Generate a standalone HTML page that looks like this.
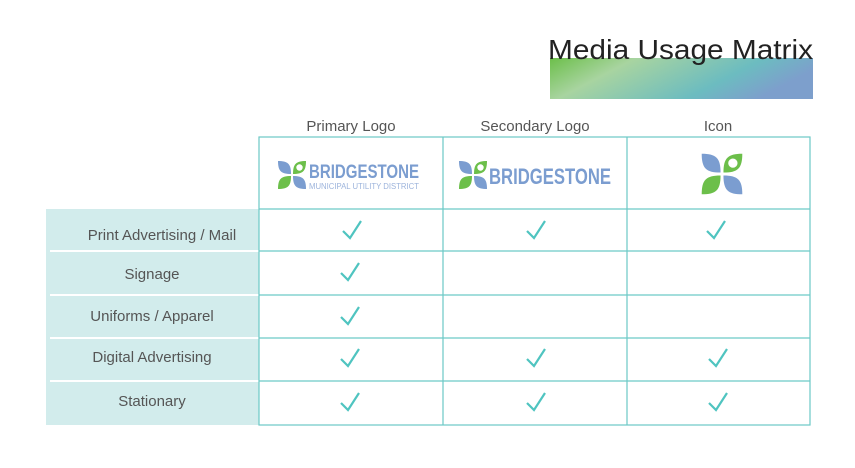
<!DOCTYPE html>
<html><head><style>body{margin:0;background:#fff}svg{display:block}</style></head><body>
<svg width="855" height="468" xmlns="http://www.w3.org/2000/svg" font-family="Liberation Sans, sans-serif">
<defs>
<linearGradient id="g" x1="0" y1="0" x2="1" y2="0.3">
<stop offset="0" stop-color="#6cbf4a"/><stop offset="0.3" stop-color="#a8d4a0"/><stop offset="0.75" stop-color="#6cbcc0"/><stop offset="1" stop-color="#7d9fcc"/></linearGradient>
<radialGradient id="w" cx="0.5" cy="1" r="0.5"><stop offset="0" stop-color="#fff"/><stop offset="1" stop-color="#fff" stop-opacity="0"/></radialGradient>
<g id="ck"><path d="M-9,1 L-2,8 L9,-9" fill="none" stroke="#4fc4c0" stroke-width="2.2"/></g>
<g id="lf">
<path d="M-1,-1 C-1,-11 -4,-14 -14,-14 C-14,-4 -11,-1 -1,-1Z" fill="#7b9dd0"/>
<path d="M1,-1 C1,-11 4,-14 14,-14 C14,-4 11,-1 1,-1Z" fill="#6cbf4a"/>
<circle cx="7.5" cy="-7.5" r="3.2" fill="#fff"/>
<path d="M-1,1 C-1,11 -4,14 -14,14 C-14,4 -11,1 -1,1Z" fill="#6cbf4a"/>
<path d="M1,1 C1,11 4,14 14,14 C14,4 11,1 1,1Z" fill="#7b9dd0"/>
</g>
</defs>
<rect x="550" y="58" width="263" height="41" fill="url(#g)"/>
<ellipse cx="578" cy="99" rx="45" ry="25" fill="url(#w)"/>
<text x="548" y="59" font-size="28" fill="#222" textLength="265" lengthAdjust="spacingAndGlyphs">Media Usage Matrix</text>
<g font-size="15" fill="#555" text-anchor="middle">
<text x="351" y="131">Primary Logo</text><text x="535" y="131">Secondary Logo</text><text x="718" y="131">Icon</text>
</g>
<rect x="46" y="209" width="213" height="216" fill="#d2ecec"/>
<g stroke="#fff" stroke-width="2"><line x1="50" y1="251" x2="259" y2="251"/><line x1="50" y1="295" x2="259" y2="295"/><line x1="50" y1="338" x2="259" y2="338"/><line x1="50" y1="381" x2="259" y2="381"/></g>
<g stroke="#6cc9c6" stroke-width="1.2" fill="none">
<rect x="259" y="137" width="551" height="288"/>
<line x1="443" y1="137" x2="443" y2="425"/><line x1="627" y1="137" x2="627" y2="425"/>
<line x1="259" y1="209" x2="810" y2="209"/><line x1="259" y1="251" x2="810" y2="251"/><line x1="259" y1="295" x2="810" y2="295"/><line x1="259" y1="338" x2="810" y2="338"/><line x1="259" y1="381" x2="810" y2="381"/>
</g>
<g font-size="15" fill="#555" text-anchor="middle">
<text x="162" y="240">Print Advertising / Mail</text><text x="152" y="279">Signage</text><text x="152" y="321">Uniforms / Apparel</text><text x="152" y="362">Digital Advertising</text><text x="152" y="406">Stationary</text>
</g>
<use href="#ck" x="352" y="230"/><use href="#ck" x="536" y="230"/><use href="#ck" x="716" y="230"/>
<use href="#ck" x="350" y="272"/><use href="#ck" x="350" y="316"/>
<use href="#ck" x="350" y="358"/><use href="#ck" x="536" y="358"/><use href="#ck" x="718" y="358"/>
<use href="#ck" x="350" y="402"/><use href="#ck" x="536" y="402"/><use href="#ck" x="718" y="402"/>
<use href="#lf" x="292" y="175"/>
<text x="309" y="178" font-size="19" font-weight="bold" fill="#7b9dd0" textLength="110" lengthAdjust="spacingAndGlyphs">BRIDGESTONE</text>
<text x="309" y="189" font-size="8" fill="#9db4dc" textLength="110" lengthAdjust="spacingAndGlyphs">MUNICIPAL UTILITY DISTRICT</text>
<use href="#lf" x="473" y="175"/>
<text x="489" y="184" font-size="22" font-weight="bold" fill="#7b9dd0" textLength="122" lengthAdjust="spacingAndGlyphs">BRIDGESTONE</text>
<use href="#lf" transform="translate(722,174) scale(1.45)"/>
</svg>
</body></html>
